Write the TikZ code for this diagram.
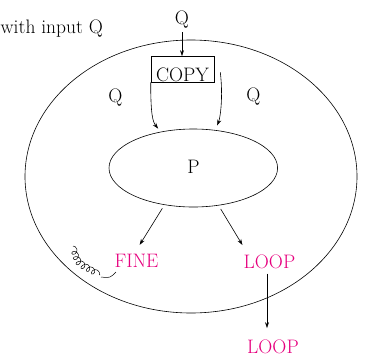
\documentclass[tikz,border=0pt]{standalone}
\usepackage{xcolor}
\usetikzlibrary{arrows.meta,shapes.geometric,decorations.pathmorphing}
\definecolor{loopmag}{RGB}{230,0,126}

\begin{document}
\begin{tikzpicture}[
  x=1pt, y=-1pt,
  txt/.style={font=\fontsize{19.5}{23}\selectfont, inner sep=4pt, anchor=base},
  pink/.style={txt, text=loopmag},
  ring/.style={draw, ellipse, line width=0.6pt, inner sep=0pt},
  arrow/.style={-{Stealth[length=6pt,width=4pt]}, line width=0.6pt}
]
\useasboundingbox (0,0) rectangle (365,357);

% outer world and the program P
\node[ring, minimum width=332pt, minimum height=273pt] (world) at (191,176.5) {};
\node[ring, minimum width=168.6pt, minimum height=78pt] (inner) at (193.3,168) {};

\node[txt, anchor=base west, inner sep=0pt] (title) at (0.5,33.5) {with input Q};
\node[txt] (qtop) at (182,24) {Q};
\node[txt, draw, line width=0.6pt, inner sep=0pt, text height=25pt, text depth=0.5pt,
  minimum width=63pt] (copy) at (182.5,81.5) {COPY};
\node[txt] (qleft) at (115.5,102) {Q};
\node[txt] (qright) at (253.5,101) {Q};
\node[txt] (p) at (193.5,173) {P};
\node[pink] (fine) at (136.5,267.5) {FINE};
\node[pink] (loop1) at (269.5,268) {LOOP};
\node[pink] (loop2) at (273,353) {LOOP};

\draw[arrow] (qtop) -- (qtop |- copy.north);
\draw[arrow, shorten >=4pt] (copy.south west) .. controls +(0,32) and +(-8,-10) .. (inner.132);
\draw[arrow, shorten >=5pt] ([shift={(6,3)}]copy.east) .. controls +(3,25) and +(5,-12) .. (inner.60);
\draw[arrow, shorten <=4pt, shorten >=6pt] (inner.232) -- (fine.north);
\draw[arrow, shorten <=4pt, shorten >=6pt] (inner.304) -- (loop1.155);
\draw[arrow, shorten <=1pt, shorten >=7pt] ([xshift=-2.5pt]loop1.south) -- ([xshift=-2.5pt]loop1.south |- loop2.north);

% the coil beside FINE
\draw[line width=0.5pt, decorate, decoration={coil, aspect=0.9, segment length=5.5pt, amplitude=3pt}]
  (73,246) .. controls (77,262) .. (100,275);
\draw[line width=0.5pt] (101,277) .. controls (110,278) .. (116,272);
\end{tikzpicture}
\end{document}
